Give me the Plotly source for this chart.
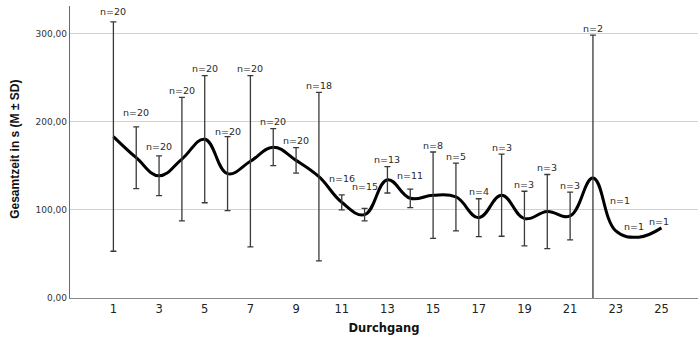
import plotly.graph_objects as go

# Durchgang (trial number), mean total time, standard deviation and group size
durchgang = list(range(1, 26))
mittelwert = [183, 159, 138.5, 157.5, 180, 141, 155, 171, 156, 137.5,
              108.5, 94.5, 134, 113, 116.5, 114.5, 91, 116.5, 90, 98,
              93, 136, 76, 69, 79.5]
sd = [130, 35, 22.5, 70, 72, 42, 97, 21, 14.5, 95.5,
      8.5, 7, 15, 10.5, 49, 38.5, 21.5, 46.5, 31, 42,
      27, 162, None, None, None]
n_werte = [20, 20, 20, 20, 20, 20, 20, 20, 20, 18,
           16, 15, 13, 11, 8, 5, 4, 3, 3, 3,
           3, 2, 1, 1, 1]
y_ticks = [0, 100, 200, 300]
x_ticks = list(range(1, 26, 2))

# pixel offsets of the "n=" labels (default: 7 px above the bar top)
label_shift = {1: (0, 10), 2: (0, 14), 3: (0, 9), 6: (0, 5), 11: (0, 16),
               12: (0, 22), 14: (0, 14), 23: (4, 30), 24: (-5, 11), 25: (-2, 6)}

fig = go.Figure()

# smoothed mean line
fig.add_trace(go.Scatter(
    x=durchgang, y=mittelwert, mode="lines",
    line=dict(color="black", width=3, shape="spline", smoothing=1.2),
    hoverinfo="skip", showlegend=False,
))

# mean ± SD error bars (only where SD exists)
eb_x = [d for d, s in zip(durchgang, sd) if s is not None]
eb_y = [m for m, s in zip(mittelwert, sd) if s is not None]
eb_e = [s for s in sd if s is not None]
fig.add_trace(go.Scatter(
    x=eb_x, y=eb_y, mode="markers",
    marker=dict(size=0.1, color="rgba(0,0,0,0)"),
    error_y=dict(type="data", array=eb_e, symmetric=True,
                 color="#3a3a3a", thickness=1.3, width=3),
    hoverinfo="skip", showlegend=False,
))

for d, m, s, n in zip(durchgang, mittelwert, sd, n_werte):
    top = m + s if s is not None else m
    dx, dy = label_shift.get(d, (0, 7))
    fig.add_annotation(
        x=d, y=top, text=f"n={n}", showarrow=False,
        xanchor="center", yanchor="middle", xshift=dx, yshift=dy,
        font=dict(family="DejaVu Sans", size=9.5, color="#2a2a2a"),
    )

# rotated y-axis title, placed left of the tick labels
fig.add_annotation(
    x=-0.088, xref="paper", xanchor="center",
    y=0.51, yref="paper", yanchor="middle",
    text="<b>Gesamtzeit in s (M ± SD)</b>", textangle=-90, showarrow=False,
    font=dict(family="Liberation Sans", size=12, color="#111"),
)

fig.update_layout(
    width=698, height=344,
    margin=dict(l=70, r=0, t=6, b=46),
    paper_bgcolor="white", plot_bgcolor="white",
    separators=",.",
    xaxis=dict(
        range=[-0.9, 26.6], tickvals=x_ticks, showgrid=False,
        showline=True, linecolor="#8a8a8a", linewidth=1.3,
        ticks="", zeroline=False,
        tickfont=dict(family="DejaVu Sans", size=11.5, color="#222"),
        title=dict(text="<b>Durchgang</b>", standoff=8,
                   font=dict(family="DejaVu Sans", size=11.5, color="#111")),
    ),
    yaxis=dict(
        range=[0, 331], tickvals=y_ticks, tickformat=".2f",
        showgrid=True, gridcolor="#d2d2d2", gridwidth=1,
        showline=True, linecolor="#6a6a6a", linewidth=1.3,
        ticks="", zeroline=False,
        tickfont=dict(family="DejaVu Sans", size=9, color="#333"),
    ),
)

fig.write_html("out.html")
